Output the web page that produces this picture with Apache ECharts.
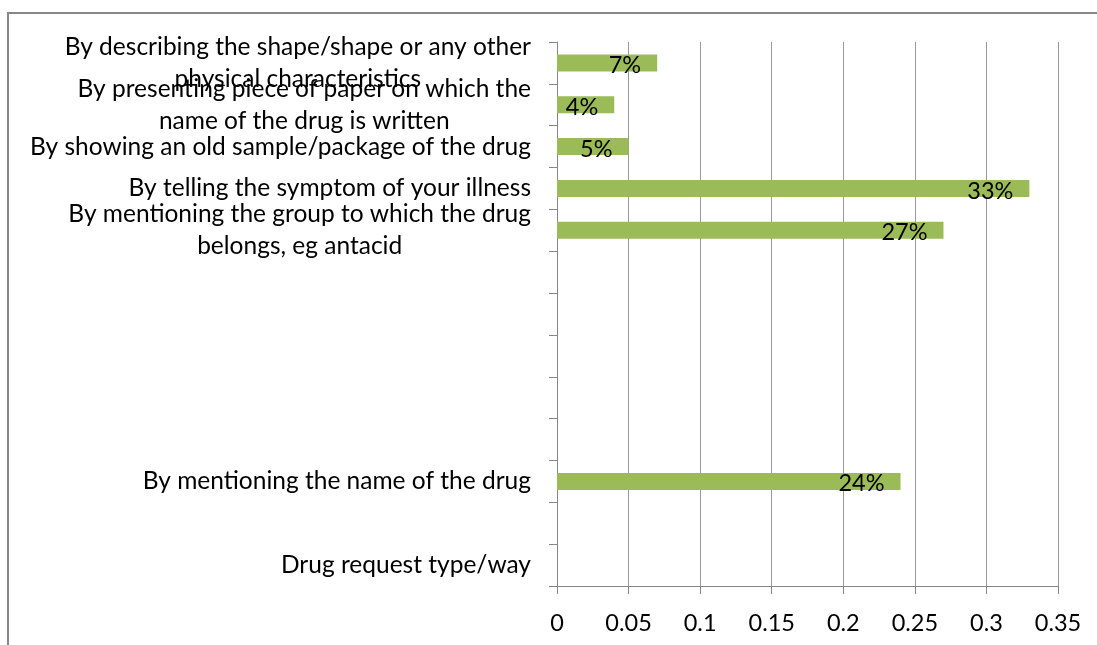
<!DOCTYPE html>
<html>
<head>
<meta charset="utf-8">
<script src="https://cdn.jsdelivr.net/npm/echarts@6/dist/echarts.min.js"></script>
<style>
  html, body { margin: 0; padding: 0; background: #fff; }
  #chart { width: 1097px; height: 645px; }
</style>
</head>
<body>
<div id="chart"></div>
<script>
// Ways customers ask for a drug (top to bottom), share of responses
const categories = [
  'By describing the shape/shape or any other\nphysical characteristics',
  'By presenting piece of paper on which the\nname of the drug is written',
  'By showing an old sample/package of the drug',
  'By telling the symptom of your illness',
  'By mentioning the group to which the drug\nbelongs, eg antacid',
  '', '', '', '', '',
  'By mentioning the name of the drug',
  '',
  'Drug request type/way'
];
const shares = [0.07, 0.04, 0.05, 0.33, 0.27, null, null, null, null, null, 0.24, null, null];
const xTicks = { min: 0, max: 0.35, step: 0.05 };

const FONT = 'Lato';
const FS_CAT = 24.5;
const FS_NUM = 23.5;

const chart = echarts.init(document.getElementById('chart'), null, { renderer: 'canvas' });

chart.setOption({
  animation: false,
  backgroundColor: '#ffffff',
  graphic: [{
    type: 'rect',
    shape: { x: 8, y: 13, width: 1200, height: 700 },
    style: { fill: 'none', stroke: '#878787', lineWidth: 2 },
    silent: true
  }],
  grid: { left: 557, right: 39, top: 42, bottom: 59, containLabel: false },
  xAxis: {
    type: 'value',
    min: xTicks.min,
    max: xTicks.max,
    interval: xTicks.step,
    axisLine: { show: true, lineStyle: { color: '#868686', width: 1 } },
    axisTick: { show: true, length: 8, lineStyle: { color: '#868686' } },
    splitLine: { show: true, lineStyle: { color: '#999999', width: 1 } },
    axisLabel: { color: '#000', fontFamily: FONT, fontSize: FS_NUM, margin: 25 }
  },
  yAxis: {
    type: 'category',
    inverse: true,
    data: categories,
    axisLine: { show: true, lineStyle: { color: '#868686', width: 1 } },
    axisTick: { show: true, length: 8, lineStyle: { color: '#868686' } },
    splitLine: { show: false },
    axisLabel: {
      interval: 0,
      margin: 26,
      align: 'right',
      color: '#000',
      fontFamily: FONT,
      fontSize: FS_CAT,
      lineHeight: 32,
      formatter: function (v) {
        if (!v) return '';
        return v.split('\n').map(function (l) { return '{c|' + l + '}'; }).join('\n');
      },
      rich: {
        c: { align: 'center', fontFamily: FONT, fontSize: FS_CAT, lineHeight: 32, color: '#000' }
      }
    }
  },
  series: [{
    type: 'bar',
    data: shares,
    barWidth: 17,
    itemStyle: { color: '#9BBB59' },
    label: {
      show: true,
      position: 'insideRight',
      distance: 16,
      offset: [0, 2.5],
      color: '#000',
      fontFamily: FONT,
      fontSize: FS_NUM,
      formatter: function (p) { return Math.round(p.value * 100) + '%'; }
    }
  }]
});
</script>
</body>
</html>
